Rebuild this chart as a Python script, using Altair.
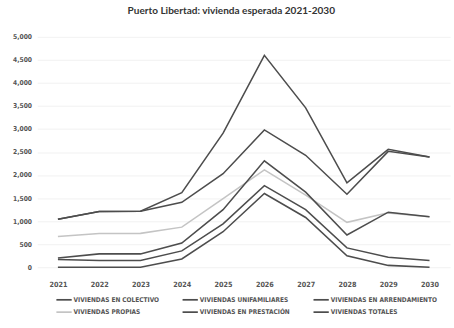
import altair as alt
import pandas as pd

years = ["2021", "2022", "2023", "2024", "2025", "2026", "2027", "2028", "2029", "2030"]
series_names = [
    "VIVIENDAS EN COLECTIVO",
    "VIVIENDAS UNIFAMILIARES",
    "VIVIENDAS EN ARRENDAMIENTO",
    "VIVIENDAS PROPIAS",
    "VIVIENDAS EN PRESTACIÓN",
    "VIVIENDAS TOTALES",
]
propias = [665, 730, 735, 870, 1490, 2115, 1565, 975, 1180, 1095]
colectivo = [0, 0, 0, 180, 770, 1600, 1080, 250, 40, 0]
unifamiliares = [1040, 1210, 1215, 1410, 2030, 2980, 2430, 1585, 2515, 2395]
arrendamiento = [200, 290, 290, 525, 1250, 2310, 1630, 700, 1195, 1095]
prestacion = [170, 145, 145, 355, 940, 1770, 1250, 420, 215, 145]
totales = [1040, 1210, 1215, 1620, 2910, 4600, 3460, 1830, 2560, 2395]
colors = ["#4d4d4d", "#4d4d4d", "#4d4d4d", "#c4c4c4", "#4d4d4d", "#4d4d4d"]

values_by_name = {
    "VIVIENDAS PROPIAS": propias,
    "VIVIENDAS EN COLECTIVO": colectivo,
    "VIVIENDAS UNIFAMILIARES": unifamiliares,
    "VIVIENDAS EN ARRENDAMIENTO": arrendamiento,
    "VIVIENDAS EN PRESTACIÓN": prestacion,
    "VIVIENDAS TOTALES": totales,
}
rows = []
for name, vals in values_by_name.items():
    for y, v in zip(years, vals):
        rows.append({"year": y, "serie": name, "value": v})
df = pd.DataFrame(rows)

narrow = "Liberation Sans Narrow, DejaVu Sans Condensed, sans-serif"

chart = alt.Chart(df).mark_line(strokeWidth=1.6).encode(
    x=alt.X("year:O", sort=years, scale=alt.Scale(type="point", padding=0.5),
            axis=alt.Axis(title=None, labelAngle=0, domain=False, ticks=False,
                          labelFont=narrow, labelFontSize=7.5, labelColor="#555555",
                          labelPadding=14, labelFontWeight="bold")),
    y=alt.Y("value:Q", scale=alt.Scale(domain=[0, 5000], nice=False),
            axis=alt.Axis(title=None, values=list(range(0, 5001, 500)), format=",.0f",
                          domain=False, ticks=False, labelFont=narrow, labelFontSize=7,
                          labelColor="#555555", labelPadding=6, gridColor="#f0f0f0",
                          labelFontWeight="bold")),
    color=alt.Color("serie:N", scale=alt.Scale(domain=series_names, range=colors),
                    legend=alt.Legend(title=None, orient="none", legendX=19, legendY=266,
                                      direction="horizontal", columns=3, symbolType="stroke",
                                      symbolSize=256, symbolStrokeWidth=1.8,
                                      labelFont=narrow, labelFontSize=6.8,
                                      labelColor="#555555", labelFontWeight="bold",
                                      labelOffset=1, columnPadding=20, rowPadding=0,
                                      padding=0, labelLimit=200)),
).properties(
    width=432,
    height=241,
    title=alt.TitleParams("Puerto Libertad: vivienda esperada 2021-2030", font="Lato",
                          fontSize=10.5, fontWeight="bold", color="#333333",
                          anchor="middle", dx=-13, offset=17),
    autosize=alt.AutoSizeParams(type="none"),
    padding={"left": 39, "top": 31, "right": 4, "bottom": 56},
).configure_view(stroke=None)

chart.save("out.html", embed_options={"renderer": "svg", "actions": False})
